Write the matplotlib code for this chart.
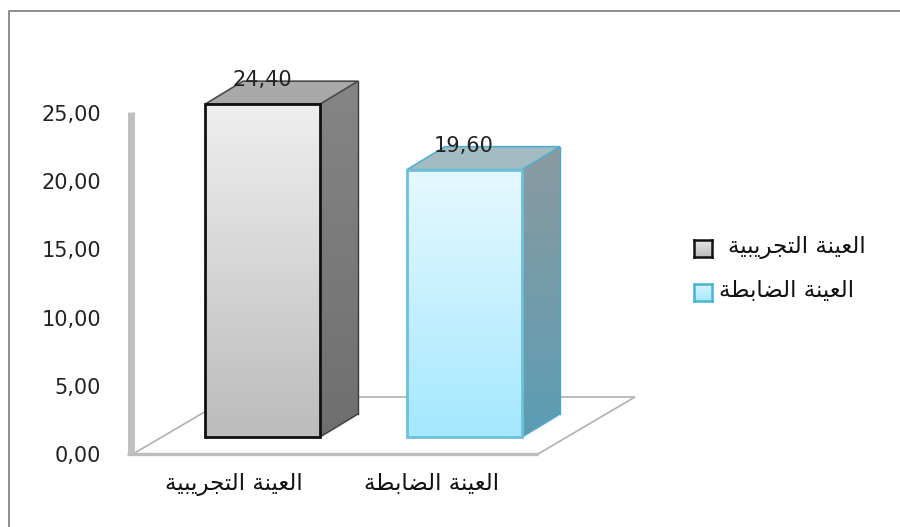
import numpy as np
import matplotlib
matplotlib.use("Agg")
import matplotlib.pyplot as plt
from matplotlib.patches import Polygon, Rectangle
from matplotlib.colors import LinearSegmentedColormap

# Arabic labels in presentation forms, logical order; reversed when drawn
# because the text engine lays glyphs out left to right without shaping.
categories = [
    "\uFE8D\uFEDF\uFECC\uFEF4\uFEE8\uFE94 \uFE8D\uFEDF\uFE98\uFEA0\uFEAE\uFEF3\uFE92\uFEF4\uFE94",
    "\uFE8D\uFEDF\uFECC\uFEF4\uFEE8\uFE94 \uFE8D\uFEDF\uFEC0\uFE8E\uFE91\uFEC4\uFE94",
]
values = [24.40, 19.60]
value_labels = ["24,40", "19,60"]
y_ticks = [0, 5, 10, 15, 20, 25]
y_tick_labels = ["0,00", "5,00", "10,00", "15,00", "20,00", "25,00"]

W, H = 900, 527
plt.rcParams["font.family"] = "DejaVu Sans"
fig = plt.figure(figsize=(W / 100, H / 100), dpi=100, facecolor="white")

# Pixel-aligned plot region: value 0 on the wall sits at y=454, 25 at y=113.
# The axis runs on to 30 so the extruded bar tops have room above the last tick.
X0, X1 = 130, 640
Y0, Y25 = 454, 113
YMAX = 30
plot_h = (Y0 - Y25) * YMAX / 25
ax = fig.add_axes([X0 / W, 1 - Y0 / H, (X1 - X0) / W, plot_h / H])
ax.patch.set_alpha(0)
for s in ax.spines.values():
    s.set_visible(False)
ax.set_xticks([])
ax.set_yticks(y_ticks, y_tick_labels)
ax.tick_params(axis="y", length=0, pad=21, labelsize=15, labelcolor="#222222")

units = 25 / (Y0 - Y25)          # value units per pixel
base = 17 * units                # bar feet stand forward of the wall's zero
dx, dy = 38, 23 * units          # extrusion of the bars
bar_lefts = [205, 407]
bar_w = 115


def grad(c1, c2):
    return LinearSegmentedColormap.from_list("g", [c1, c2])


# Floor parallelogram and wall
floor = Polygon([(133, 0), (538, 0), (635, 57 * units), (230, 57 * units)],
                closed=True, fc="white", ec="#b0b0b0", lw=1.2, zorder=1, clip_on=False)
ax.add_patch(floor)
ax.plot([127, 538], [0, 0], color="#bdbdbd", lw=2.4, zorder=2, clip_on=False, solid_capstyle="butt")
ax.plot([130.5, 130.5], [0, 25.1], color="#c0c0c0", lw=5, zorder=2, clip_on=False, solid_capstyle="butt")

styles = [
    dict(edge="#111111", top="#a9a9a9", side=("#858585", "#6f6f6f"), face=("#eeeeee", "#bcbcbc"),
         top_edge="#4a4a4a", side_edge="#3c3c3c"),
    dict(edge="#6cc0da", top="#a3bcc2", side=("#8b9aa0", "#5c9db4"), face=("#e6f8ff", "#a5e8ff"),
         top_edge="#52aecf", side_edge="#4aa9c8"),
]

for i, (v, left, st) in enumerate(zip(values, bar_lefts, styles)):
    right = left + bar_w
    top = base + v
    # shadow on the floor
    ax.add_patch(Polygon([(left - 10, base - 0.05), (right + 2, base - 0.05),
                          (right + dx + 5, base + dy + 0.05), (right, base + 0.3)],
                         closed=True, fc="#eeeeee", ec="none", zorder=2.5))
    # side face
    side_poly = Polygon([(right, base), (right + dx, base + dy), (right + dx, top + dy), (right, top)],
                        closed=True, fc="none", ec="none", zorder=3)
    ax.add_patch(side_poly)
    im = ax.imshow(np.linspace(0, 1, 64)[:, None], cmap=grad(*st["side"]), aspect="auto",
                   extent=(right, right + dx, base, top + dy), origin="upper", zorder=3)
    im.set_clip_path(side_poly)
    ax.plot([right + dx, right + dx], [base + dy, top + dy], color=st["side_edge"], lw=1, zorder=3.2)
    ax.plot([right, right + dx], [base, base + dy], color=st["side_edge"], lw=1, zorder=3.2)
    # top face
    ax.add_patch(Polygon([(left, top), (right, top), (right + dx, top + dy), (left + dx, top + dy)],
                         closed=True, fc=st["top"], ec=st["top_edge"], lw=1.2, zorder=3.3))
    # front face: a bar with a vertical gradient inside it
    ax.bar(left + bar_w / 2, v, width=bar_w, bottom=base, fc="none", ec=st["edge"], lw=2, zorder=4.5)
    im2 = ax.imshow(np.linspace(0, 1, 64)[:, None], cmap=grad(*st["face"]), aspect="auto",
                    extent=(left, right, base, top), origin="upper", zorder=4)
    im2.set_clip_path(Rectangle((left, base), bar_w, v, transform=ax.transData))
    # value label, sitting over the top face
    ax.text(left + bar_w / 2 - 0.5, top + 18 * units, value_labels[i], ha="center", va="baseline",
            fontsize=15, color="#222222", zorder=6, clip_on=False)

ax.set_xlim(X0, X1)
ax.set_ylim(0, YMAX)

# Category labels below the floor, on a shared baseline
for cat, cx in zip(categories, [234, 432]):
    fig.text(cx / W, 1 - 490 / H, cat[::-1], ha="center", va="baseline", fontsize=16.5, color="#111111")

# Legend
leg_y = [248, 292]
leg_edges = ["#111111", "#49b3d2"]
leg_faces = [("#e6e6e6", "#bdbdbd"), ("#d9f3ff", "#a5e8ff")]
leg_x = [797, 787]
for cat, y, e, f, tx in zip(categories, leg_y, leg_edges, leg_faces, leg_x):
    lax = fig.add_axes([694 / W, 1 - (y + 9) / H, 18 / W, 17 / H])
    lax.imshow(np.linspace(0, 1, 16)[:, None], cmap=grad(*f), aspect="auto")
    lax.set_xticks([])
    lax.set_yticks([])
    for s in lax.spines.values():
        s.set_color(e)
        s.set_linewidth(1.8)
    fig.text(tx / W, 1 - (y + 5) / H, cat[::-1], ha="center", va="baseline", fontsize=16.5, color="#111111")

# Outer frame: top and left rules only
frame = fig.add_axes([0, 0, 1, 1], zorder=-1)
frame.set_xlim(0, W)
frame.set_ylim(H, 0)
frame.axis("off")
frame.plot([9, 9, 900], [527, 11, 11], color="#8c8c8c", lw=1.4)

fig.savefig("out.png", dpi=100, facecolor="white")
